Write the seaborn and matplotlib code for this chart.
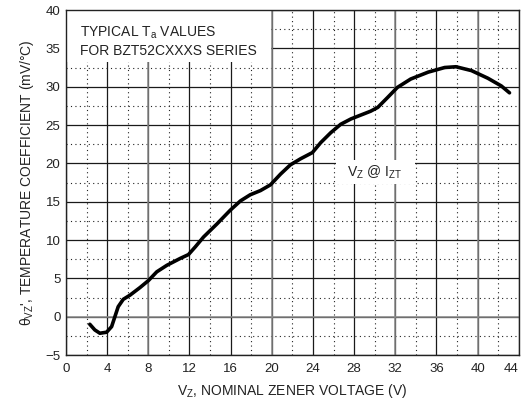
import matplotlib
matplotlib.use("Agg")
import matplotlib.pyplot as plt
import seaborn as sns
import pandas as pd
from matplotlib.patches import Rectangle

vz = [2.31, 2.8, 3.29, 3.94, 4.43, 4.75, 5.07, 5.56, 6.21, 7.19, 8.0, 8.82, 9.8,
      11.1, 11.9, 12.56, 13.37, 14.67, 15.97, 16.95, 17.9, 18.9, 19.87, 20.85,
      21.8, 22.8, 23.94, 24.75, 25.73, 26.7, 27.7, 28.65, 29.6, 30.3, 31.26,
      32.2, 33.5, 35.2, 36.8, 37.9, 39.4, 41.0, 42.3, 43.1]
tc = [-0.99, -1.73, -2.16, -2.03, -1.3, 0.0, 1.3, 2.26, 2.8, 3.8, 4.7, 5.85, 6.7,
      7.6, 8.1, 9.1, 10.4, 12.1, 13.9, 15.1, 15.9, 16.45, 17.2, 18.6,
      19.8, 20.6, 21.4, 22.7, 24.0, 25.1, 25.8, 26.3, 26.8, 27.3, 28.6,
      29.9, 31.0, 31.9, 32.5, 32.6, 32.1, 31.1, 30.1, 29.2]

xticks = list(range(0, 45, 4))
yticks = list(range(-5, 41, 5))
gray_x = [8, 20, 32, 40]
gray_y = [0]

sns.set_theme(style="white")
plt.rcParams['font.family'] = ['Liberation Sans', 'DejaVu Sans']
plt.rcParams['mathtext.default'] = 'regular'

fig = plt.figure(figsize=(5.24, 4.01), dpi=100)
ax = fig.add_axes([0.126, 0.1147, 0.864, 0.8603])

df = pd.DataFrame({"vz": vz, "tc": tc})
sns.lineplot(data=df, x="vz", y="tc", ax=ax, color="black", lw=2.6, sort=False,
             zorder=5)
ax.lines[0].set_solid_capstyle("round")
ax.lines[0].set_solid_joinstyle("round")

ax.set_xlim(0, 44)
ax.set_ylim(-5, 40)
ax.set_xticks(xticks)
ax.set_yticks(yticks)
ax.set_xticks([x + 2 for x in xticks[:-1]], minor=True)
ax.set_yticks([y + 2.5 for y in yticks[:-1]], minor=True)
ax.grid(which="major", color="#1a1a1a", lw=0.9, ls="-")
ax.grid(which="minor", color="#222222", lw=0.8, ls=(0, (1, 3)))
for gx in gray_x:
    ax.axvline(gx, color="#8a8a8a", lw=1.1, zorder=0.6)
for gy in gray_y:
    ax.axhline(gy, color="#8a8a8a", lw=1.1, zorder=0.6)
ax.set_axisbelow(True)
for s in ax.spines.values():
    s.set_color("#222222")
    s.set_linewidth(1.0)
ax.tick_params(which="both", length=0, labelsize=9.5, colors="#222222", pad=4)
ax.tick_params(axis="x", pad=6)
# keep the last x label inside the canvas
ax.get_xticklabels()[-1].set_horizontalalignment("right")
ax.get_xticklabels()[-1].set_x(44)

ax.set_xlabel("V$_Z$, NOMINAL ZENER VOLTAGE (V)", fontsize=10, color="#222222", labelpad=5)
ax.set_ylabel("θ$_{VZ}$', TEMPERATURE COEFFICIENT (mV/°C)", fontsize=10, color="#222222", labelpad=7)

# white boxes behind annotations
ax.add_patch(Rectangle((0, 33.2), 19.9, 6.8, facecolor="white", edgecolor="none", zorder=2))
ax.text(1.4, 37.0, "TYPICAL T$_a$ VALUES", fontsize=10, color="#222222", va="center", zorder=3)
ax.text(1.4, 34.6, "FOR BZT52CXXXS SERIES", fontsize=10, color="#222222", va="center", zorder=3)

ax.add_patch(Rectangle((26.2, 17.3), 7.7, 3.2, facecolor="white", edgecolor="none", zorder=2))
ax.text(30.0, 18.8, "V$_Z$ @ I$_{ZT}$", fontsize=10, color="#222222", ha="center", va="center", zorder=3)

fig.savefig("out.png", dpi=100)
